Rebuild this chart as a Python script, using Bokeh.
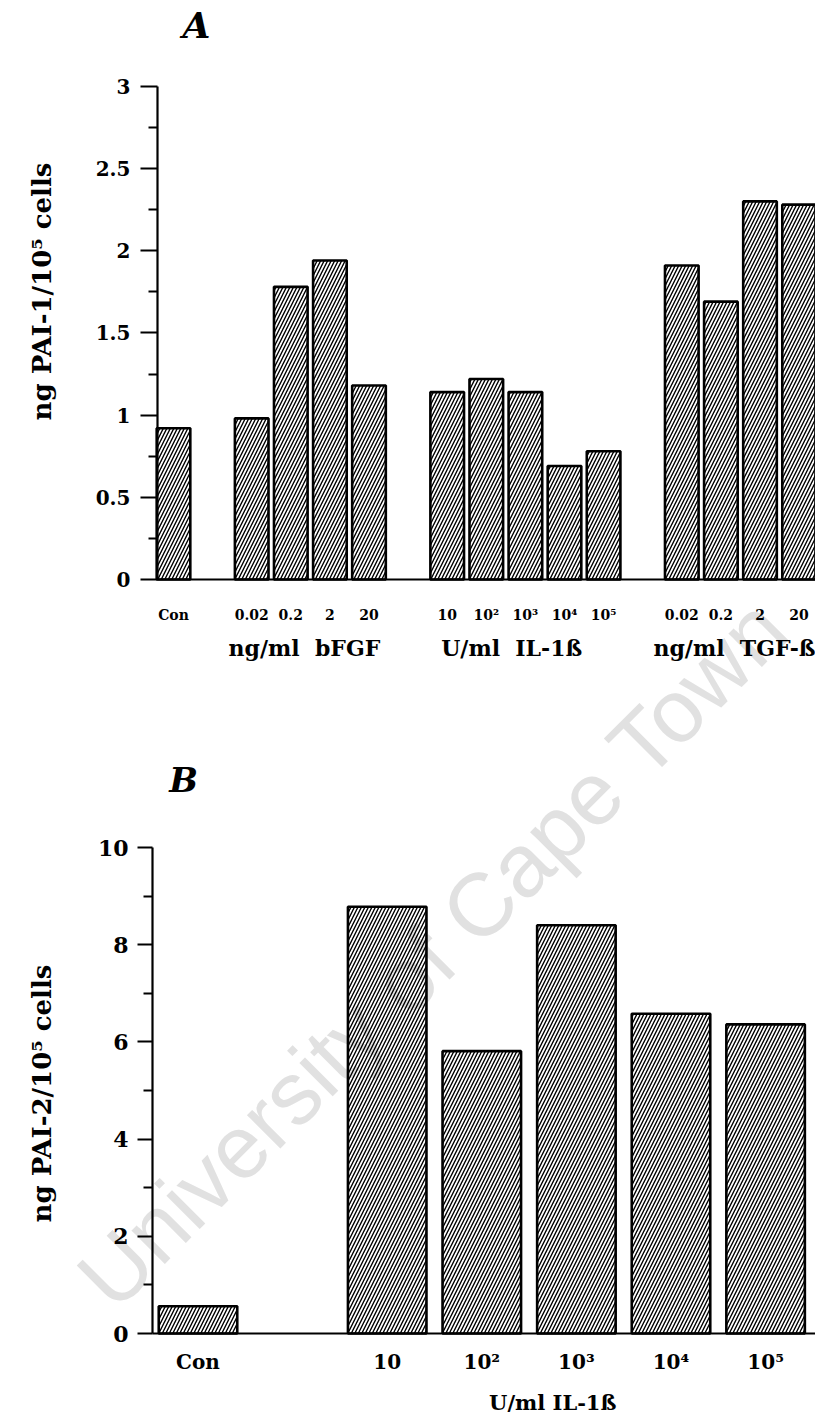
import math

from bokeh.embed import file_html
from bokeh.models import FixedTicker, Label, LinearAxis, Range1d
from bokeh.plotting import figure
from bokeh.resources import INLINE

# ---------------- data ----------------
# Panel A: PAI-1 (ng / 10^5 cells)
control_a = 0.92
bfgf_doses = ["0.02", "0.2", "2", "20"]
bfgf_pai1 = [0.98, 1.78, 1.94, 1.18]
il1_doses_a = ["10", "10²", "10³", "10⁴", "10⁵"]
il1_pai1 = [1.14, 1.22, 1.14, 0.69, 0.78]
tgf_doses = ["0.02", "0.2", "2", "20"]
tgf_pai1 = [1.91, 1.69, 2.30, 2.28]
group_names_a = ["ng/ml\u00a0 bFGF", "U/ml\u00a0 IL-1ß", "ng/ml\u00a0 TGF-ß"]
yticks_a = [0, 0.5, 1, 1.5, 2, 2.5, 3]

# Panel B: PAI-2 (ng / 10^5 cells)
control_b = 0.56
il1_doses_b = ["10", "10²", "10³", "10⁴", "10⁵"]
il1_pai2 = [8.78, 5.81, 8.40, 6.58, 6.36]
group_name_b = "U/ml IL-1ß"
yticks_b = [0, 2, 4, 6, 8, 10]

control_label = "Con"
watermark = "University of Cape Town"

# ---------------- page geometry ----------------
SERIF = "DejaVu Serif"
W, H = 815, 1416


def slot_positions(groups):
    """Control sits in slot 0; each treatment group follows after one empty slot."""
    xs, pos = [0], 1
    for g in groups:
        pos += 1
        xs.extend(range(pos, pos + len(g)))
        pos += len(g)
    return xs


class Panel:
    """Maps a panel's data space (bar slots, values) onto page pixels."""

    def __init__(self, name, slot0_px, slot_px, zero_py, unit_px):
        self.name = name
        self.slot0_px, self.slot_px = slot0_px, slot_px
        self.zero_py, self.unit_px = zero_py, unit_px

    def sx(self, px):
        return (px - self.slot0_px) / self.slot_px

    def sy(self, py):
        return (self.zero_py - py) / self.unit_px

    def ranges(self):
        return (Range1d(self.sx(0), self.sx(W)), Range1d(self.sy(H), self.sy(0)))


# The whole page is one frame in page pixels; each panel has its own ranges.
p = figure(width=W, height=H, title=None,
           x_range=Range1d(0, W), y_range=Range1d(H, 0),
           x_axis_type=None, y_axis_type=None,
           output_backend="svg", toolbar_location=None, min_border=0)
p.outline_line_color = None
p.background_fill_color = "white"
p.border_fill_color = "white"

panel_a = Panel("a", 173.0, 39.1, 579.0, 164.4)
panel_b = Panel("b", 197.5, 94.6, 1333.0, 48.6)
for pan in (panel_a, panel_b):
    xr, yr = pan.ranges()
    p.extra_x_ranges[pan.name] = xr
    p.extra_y_ranges[pan.name] = yr


def add_text(px, py, text, size, angle=0.0, style="bold", font=SERIF,
             color="black", align="center", baseline="middle",
             level="annotation"):
    p.add_layout(Label(x=px, y=py, text=text, angle=angle,
                       text_font=font, text_font_style=style,
                       text_font_size=size, text_color=color,
                       text_align=align, text_baseline=baseline,
                       level=level))


def bars(pan, xs, tops, width):
    p.vbar(x=xs, top=tops, bottom=0, width=width,
           x_range_name=pan.name, y_range_name=pan.name,
           fill_color=None, line_color="black", line_width=2.6,
           hatch_pattern="/", hatch_color="black", hatch_scale=7,
           hatch_weight=1.4)


def y_axis(pan, axis_px, ticks, size, tick_out, minor_out, standoff):
    minors = [(a + b) / 2 for a, b in zip(ticks, ticks[1:])]
    ax = LinearAxis(x_range_name=pan.name, y_range_name=pan.name,
                    fixed_location=pan.sx(axis_px), bounds=(ticks[0], ticks[-1]),
                    ticker=FixedTicker(ticks=ticks, minor_ticks=minors),
                    major_label_overrides={t: f"{t:g}" for t in ticks})
    ax.axis_line_width = 2.2
    ax.major_tick_line_width = 2
    ax.minor_tick_line_width = 2
    ax.major_tick_out = tick_out
    ax.major_tick_in = 0
    ax.minor_tick_out = minor_out
    ax.minor_tick_in = 0
    ax.major_label_standoff = standoff
    ax.major_label_text_font = SERIF
    ax.major_label_text_font_style = "bold"
    ax.major_label_text_font_size = size
    ax.major_label_text_color = "black"
    p.add_layout(ax, "left")


def x_axis(pan, axis_px, ticks, labels, size, standoff, line=True):
    ax = LinearAxis(x_range_name=pan.name, y_range_name=pan.name,
                    fixed_location=0, bounds=(pan.sx(axis_px), pan.sx(W)),
                    ticker=FixedTicker(ticks=ticks, minor_ticks=[]),
                    major_label_overrides=dict(zip(ticks, labels)))
    ax.major_tick_line_color = None
    ax.minor_tick_line_color = None
    ax.major_tick_out = 0
    ax.major_tick_in = 0
    ax.axis_line_width = 2.2
    if not line:
        ax.axis_line_color = None
    ax.major_label_standoff = standoff
    ax.major_label_text_font = SERIF
    ax.major_label_text_font_style = "bold"
    ax.major_label_text_font_size = size
    ax.major_label_text_color = "black"
    p.add_layout(ax, "below")


# ---------------- watermark (behind everything) ----------------
add_text(432, 952, watermark, "89px", angle=math.pi / 4, style="normal",
         font="Liberation Sans", color="#e1e1e1", align="center",
         baseline="alphabetic", level="underlay")

# ---------------- panel A ----------------
xs_a = slot_positions([bfgf_doses, il1_doses_a, tgf_doses])
vals_a = [control_a] + bfgf_pai1 + il1_pai1 + tgf_pai1
labels_a = [control_label] + bfgf_doses + il1_doses_a + tgf_doses

bars(panel_a, xs_a, vals_a, 0.86)
y_axis(panel_a, 157, yticks_a, "20px", 17, 9, 10)
x_axis(panel_a, 157, xs_a, labels_a, "14px", 27)
x_axis(panel_a, 157, [3.35, 8.65, 14.35], group_names_a, "22px", 55, line=False)

add_text(196, 24, "A", "36px", style="bold italic")
add_text(41, 291, "ng PAI-1/10⁵ cells", "26px", angle=math.pi / 2)

# ---------------- panel B ----------------
xs_b = slot_positions([il1_doses_b])
vals_b = [control_b] + il1_pai2
labels_b = [control_label] + il1_doses_b

bars(panel_b, xs_b, vals_b, 0.83)
y_axis(panel_b, 152, yticks_b, "22px", 15, 9, 9)
x_axis(panel_b, 152, xs_b, labels_b, "20px", 16)
x_axis(panel_b, 152, [3.75], [group_name_b], "21px", 56, line=False)

add_text(183, 779, "B", "34px", style="bold italic")
add_text(41, 1093, "ng PAI-2/10⁵ cells", "26px", angle=math.pi / 2)

open("out.html", "w").write(file_html(p, INLINE))
